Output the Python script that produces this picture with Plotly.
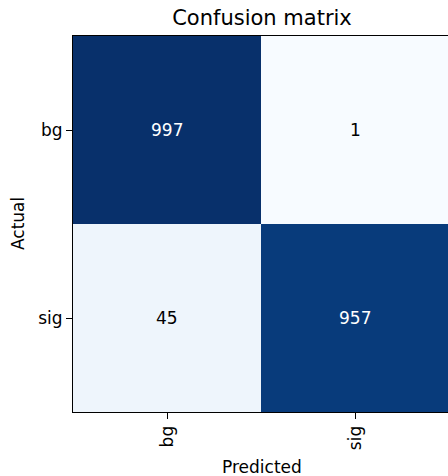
import plotly.graph_objects as go

classes = ["bg", "sig"]
cm = [[997, 1],
      [45, 957]]
title_text = "Confusion matrix"
x_label = "Predicted"
y_label = "Actual"

blues = ["#f7fbff", "#deebf7", "#c6dbef", "#9ecae1", "#6baed6",
         "#4292c6", "#2171b5", "#08519c", "#08306b"]
colorscale = [[i / (len(blues) - 1), c] for i, c in enumerate(blues)]

flat = [v for row in cm for v in row]
vmin, vmax = min(flat), max(flat)
thresh = vmax / 2.0

W, H = 448, 476
L, T, B = 73, 36, 64
plot_w = W - L
cell = (H - T - B) / 2.0
xmax = -0.5 + plot_w / cell

font = "DejaVu Sans, sans-serif"

fig = go.Figure(go.Heatmap(
    z=cm, x=[0, 1], y=[0, 1],
    colorscale=colorscale, zmin=vmin, zmax=vmax,
    showscale=False, hoverinfo="skip",
))

annotations = []
for i, row in enumerate(cm):
    for j, v in enumerate(row):
        annotations.append(dict(
            x=j, y=i, xref="x", yref="y", text=str(v), showarrow=False,
            font=dict(family=font, size=17,
                      color="white" if v > thresh else "black"),
        ))
annotations.append(dict(
    x=(262 - L) / plot_w, y=-(467 - (H - B)) / (H - T - B),
    xref="paper", yref="paper", text=x_label, showarrow=False,
    font=dict(family=font, size=17, color="black"),
    xanchor="center", yanchor="middle",
))
annotations.append(dict(
    x=(18 - L) / plot_w, y=0.5, xref="paper", yref="paper",
    text=y_label, showarrow=False, textangle=-90,
    font=dict(family=font, size=17, color="black"),
    xanchor="center", yanchor="middle",
))

fig.update_layout(
    width=W, height=H,
    margin=dict(l=L, r=0, t=T, b=B, pad=0),
    paper_bgcolor="white", plot_bgcolor="white",
    font=dict(family=font, size=17, color="black"),
    title=dict(text=title_text, x=262 / W, xref="container", xanchor="center",
               y=1 - 18 / H, yref="container", yanchor="middle",
               font=dict(family=font, size=21, color="black")),
    annotations=annotations,
    xaxis=dict(range=[-0.5, xmax], tickvals=[0, 1], ticktext=classes,
               tickangle=-90, ticks="outside", ticklen=6, tickwidth=1,
               tickcolor="black", showline=True, linecolor="black",
               linewidth=1, mirror=True, showgrid=False, zeroline=False,
               tickfont=dict(family=font, size=17, color="black")),
    yaxis=dict(range=[1.5, -0.5], tickvals=[0, 1], ticktext=classes,
               ticks="outside", ticklen=6, tickwidth=1, tickcolor="black",
               showline=True, linecolor="black", linewidth=1,
               showgrid=False, zeroline=False,
               tickfont=dict(family=font, size=17, color="black")),
)

fig.write_html(
    "out.html",
    config={"displayModeBar": False},
    post_script="document.body.style.margin='0';document.body.style.overflow='hidden';",
)
